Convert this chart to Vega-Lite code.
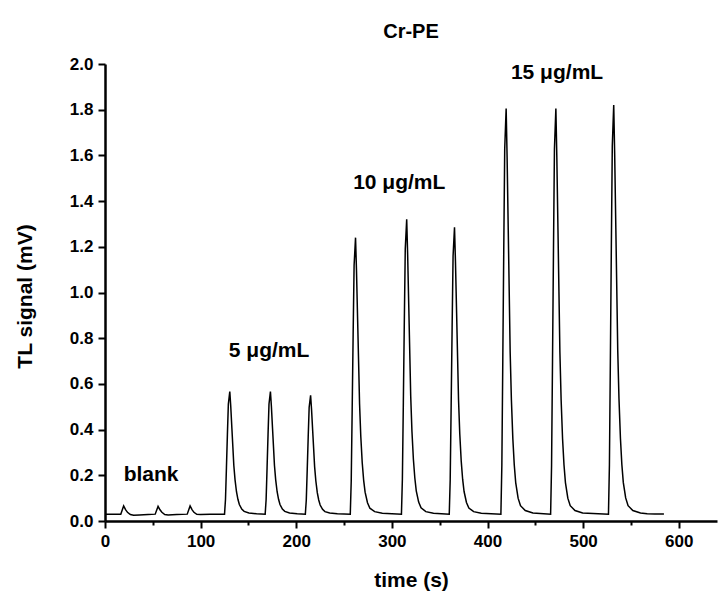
{
  "$schema": "https://vega.github.io/schema/vega-lite/v6.json",
  "autosize": "none",
  "padding": {"left": 105, "top": 64, "right": 2, "bottom": 71},
  "width": 612,
  "height": 457,
  "background": "white",
  "config": {"font": "Liberation Sans", "view": {"stroke": null}},
  "title": {"text": "Cr-PE", "fontSize": 20, "fontWeight": "bold", "font": "Liberation Sans", "anchor": "middle", "offset": 13, "color": "black"},
  "layer": [
    {
      "data": {"values": [
        {"t": 0, "v": 0.03}, {"t": 16.5, "v": 0.03}, {"t": 19.5, "v": 0.066}, {"t": 21.5, "v": 0.05}, {"t": 23.5, "v": 0.038}, {"t": 26.5, "v": 0.028}, {"t": 30, "v": 0.025}, {"t": 36, "v": 0.026}, {"t": 45, "v": 0.028},
        {"t": 52.5, "v": 0.03}, {"t": 55.5, "v": 0.064}, {"t": 57.5, "v": 0.049}, {"t": 59.5, "v": 0.038}, {"t": 62.5, "v": 0.028}, {"t": 66, "v": 0.026}, {"t": 75, "v": 0.028},
        {"t": 86, "v": 0.03}, {"t": 89, "v": 0.066}, {"t": 91, "v": 0.05}, {"t": 93, "v": 0.038}, {"t": 96, "v": 0.029}, {"t": 100, "v": 0.028}, {"t": 110, "v": 0.029},
        {"t": 125, "v": 0.03}, {"t": 126, "v": 0.094}, {"t": 127, "v": 0.234}, {"t": 128, "v": 0.378}, {"t": 129, "v": 0.512}, {"t": 130.5, "v": 0.566}, {"t": 131.5, "v": 0.502}, {"t": 132.7, "v": 0.405}, {"t": 133.7, "v": 0.325}, {"t": 134.7, "v": 0.244}, {"t": 136, "v": 0.18}, {"t": 137.5, "v": 0.128}, {"t": 139, "v": 0.095}, {"t": 140.5, "v": 0.072}, {"t": 143, "v": 0.052}, {"t": 145.5, "v": 0.042}, {"t": 150.5, "v": 0.035}, {"t": 158.5, "v": 0.032},
        {"t": 167.5, "v": 0.03}, {"t": 168.5, "v": 0.094}, {"t": 169.5, "v": 0.234}, {"t": 170.5, "v": 0.378}, {"t": 171.5, "v": 0.512}, {"t": 173, "v": 0.566}, {"t": 174, "v": 0.502}, {"t": 175.2, "v": 0.405}, {"t": 176.2, "v": 0.325}, {"t": 177.2, "v": 0.244}, {"t": 178.5, "v": 0.18}, {"t": 180, "v": 0.128}, {"t": 181.5, "v": 0.095}, {"t": 183, "v": 0.072}, {"t": 185.5, "v": 0.052}, {"t": 188, "v": 0.042}, {"t": 193, "v": 0.035}, {"t": 201, "v": 0.032},
        {"t": 209.5, "v": 0.03}, {"t": 210.5, "v": 0.092}, {"t": 211.5, "v": 0.228}, {"t": 212.5, "v": 0.368}, {"t": 213.5, "v": 0.498}, {"t": 215, "v": 0.55}, {"t": 216, "v": 0.488}, {"t": 217.2, "v": 0.394}, {"t": 218.2, "v": 0.316}, {"t": 219.2, "v": 0.238}, {"t": 220.5, "v": 0.175}, {"t": 222, "v": 0.124}, {"t": 223.5, "v": 0.092}, {"t": 225, "v": 0.07}, {"t": 227.5, "v": 0.051}, {"t": 230, "v": 0.041}, {"t": 235, "v": 0.035}, {"t": 243, "v": 0.032},
        {"t": 256.5, "v": 0.03}, {"t": 257.5, "v": 0.175}, {"t": 258.5, "v": 0.49}, {"t": 259.5, "v": 0.817}, {"t": 260.5, "v": 1.119}, {"t": 262, "v": 1.24}, {"t": 263, "v": 1.095}, {"t": 264.2, "v": 0.877}, {"t": 265.2, "v": 0.696}, {"t": 266.2, "v": 0.514}, {"t": 267.5, "v": 0.37}, {"t": 269, "v": 0.255}, {"t": 270.5, "v": 0.178}, {"t": 272, "v": 0.126}, {"t": 274.5, "v": 0.08}, {"t": 277, "v": 0.056}, {"t": 282, "v": 0.041}, {"t": 290, "v": 0.034},
        {"t": 310, "v": 0.03}, {"t": 311, "v": 0.185}, {"t": 312, "v": 0.52}, {"t": 313, "v": 0.869}, {"t": 314, "v": 1.191}, {"t": 315.5, "v": 1.32}, {"t": 316.5, "v": 1.165}, {"t": 317.7, "v": 0.933}, {"t": 318.7, "v": 0.74}, {"t": 319.7, "v": 0.546}, {"t": 321, "v": 0.392}, {"t": 322.5, "v": 0.27}, {"t": 324, "v": 0.188}, {"t": 325.5, "v": 0.132}, {"t": 328, "v": 0.083}, {"t": 330.5, "v": 0.058}, {"t": 335.5, "v": 0.041}, {"t": 343.5, "v": 0.034},
        {"t": 360, "v": 0.03}, {"t": 361, "v": 0.181}, {"t": 362, "v": 0.507}, {"t": 363, "v": 0.846}, {"t": 364, "v": 1.16}, {"t": 365.5, "v": 1.285}, {"t": 366.5, "v": 1.134}, {"t": 367.7, "v": 0.909}, {"t": 368.7, "v": 0.72}, {"t": 369.7, "v": 0.532}, {"t": 371, "v": 0.382}, {"t": 372.5, "v": 0.263}, {"t": 374, "v": 0.183}, {"t": 375.5, "v": 0.129}, {"t": 378, "v": 0.081}, {"t": 380.5, "v": 0.057}, {"t": 385.5, "v": 0.041}, {"t": 393.5, "v": 0.034},
        {"t": 414, "v": 0.03}, {"t": 415, "v": 0.243}, {"t": 416, "v": 0.705}, {"t": 417, "v": 1.184}, {"t": 418, "v": 1.628}, {"t": 419.5, "v": 1.805}, {"t": 420.5, "v": 1.592}, {"t": 421.7, "v": 1.273}, {"t": 422.7, "v": 1.006}, {"t": 423.7, "v": 0.74}, {"t": 425, "v": 0.53}, {"t": 426.5, "v": 0.36}, {"t": 428, "v": 0.245}, {"t": 429.5, "v": 0.168}, {"t": 432, "v": 0.1}, {"t": 434.5, "v": 0.067}, {"t": 439.5, "v": 0.046}, {"t": 447.5, "v": 0.035},
        {"t": 466, "v": 0.03}, {"t": 467, "v": 0.243}, {"t": 468, "v": 0.705}, {"t": 469, "v": 1.184}, {"t": 470, "v": 1.628}, {"t": 471.5, "v": 1.805}, {"t": 472.5, "v": 1.592}, {"t": 473.7, "v": 1.273}, {"t": 474.7, "v": 1.006}, {"t": 475.7, "v": 0.74}, {"t": 477, "v": 0.53}, {"t": 478.5, "v": 0.36}, {"t": 480, "v": 0.245}, {"t": 481.5, "v": 0.168}, {"t": 484, "v": 0.1}, {"t": 486.5, "v": 0.067}, {"t": 491.5, "v": 0.046}, {"t": 499.5, "v": 0.035},
        {"t": 526.5, "v": 0.03}, {"t": 527.5, "v": 0.245}, {"t": 528.5, "v": 0.71}, {"t": 529.5, "v": 1.194}, {"t": 530.5, "v": 1.641}, {"t": 532, "v": 1.82}, {"t": 533, "v": 1.605}, {"t": 534.2, "v": 1.283}, {"t": 535.2, "v": 1.015}, {"t": 536.2, "v": 0.746}, {"t": 537.5, "v": 0.535}, {"t": 539, "v": 0.363}, {"t": 540.5, "v": 0.247}, {"t": 542, "v": 0.169}, {"t": 544.5, "v": 0.101}, {"t": 547, "v": 0.067}, {"t": 552, "v": 0.046}, {"t": 560, "v": 0.035},
        {"t": 567, "v": 0.032}, {"t": 575, "v": 0.031}, {"t": 584.5, "v": 0.031}
      ]},
      "mark": {"type": "line", "color": "black", "strokeWidth": 1.5, "clip": true},
      "encoding": {
        "x": {
          "field": "t", "type": "quantitative",
          "scale": {"domain": [0, 640], "nice": false, "zero": false},
          "axis": {
            "title": "time (s)",
            "titleFontSize": 21, "titleFontWeight": "bold", "titleColor": "black",
            "titleY": 59, "titleBaseline": "middle",
            "values": [0, 50, 100, 150, 200, 250, 300, 350, 400, 450, 500, 550, 600],
            "labelExpr": "datum.value % 100 === 0 ? datum.label : ''",
            "format": "d",
            "labelFontSize": 17, "labelFontWeight": "bold", "labelColor": "black", "labelPadding": 5,
            "labelFlush": false, "labelOverlap": false,
            "tickSize": {"condition": {"test": "datum.value % 100 === 0", "value": 7}, "value": 4},
            "tickWidth": 2, "tickColor": "black",
            "domainWidth": 2.5, "domainColor": "black",
            "grid": false
          }
        },
        "y": {
          "field": "v", "type": "quantitative",
          "scale": {"domain": [0, 2], "nice": false, "zero": false},
          "axis": {
            "title": "TL signal (mV)",
            "titleFontSize": 21, "titleFontWeight": "bold", "titleColor": "black",
            "titleX": -80, "titleY": 232, "titleBaseline": "middle", "titleAlign": "center", "titleAngle": -90,
            "values": [0, 0.1, 0.2, 0.3, 0.4, 0.5, 0.6, 0.7, 0.8, 0.9, 1.0, 1.1, 1.2, 1.3, 1.4, 1.5, 1.6, 1.7, 1.8, 1.9, 2.0],
            "format": ".1f",
            "labelExpr": "round(datum.value * 10) % 2 === 0 ? datum.label : ''",
            "labelFontSize": 17, "labelFontWeight": "bold", "labelColor": "black", "labelPadding": 5,
            "labelFlush": false, "labelOverlap": false,
            "tickSize": {"condition": {"test": "round(datum.value * 10) % 2 === 0", "value": 7}, "value": 4},
            "tickWidth": 2, "tickColor": "black",
            "domainWidth": 2.5, "domainColor": "black",
            "grid": false
          }
        }
      }
    },
    {
      "data": {"values": [
        {"t": 19.5, "v": 0.2, "label": "blank"},
        {"t": 129.5, "v": 0.745, "label": "5 μg/mL"},
        {"t": 259.5, "v": 1.48, "label": "10 μg/mL"},
        {"t": 424.5, "v": 1.962, "label": "15 μg/mL"}
      ]},
      "mark": {"type": "text", "align": "left", "baseline": "middle", "fontSize": 21, "fontWeight": "bold", "font": "Liberation Sans", "color": "black"},
      "encoding": {
        "x": {"field": "t", "type": "quantitative"},
        "y": {"field": "v", "type": "quantitative"},
        "text": {"field": "label"}
      }
    }
  ]
}
